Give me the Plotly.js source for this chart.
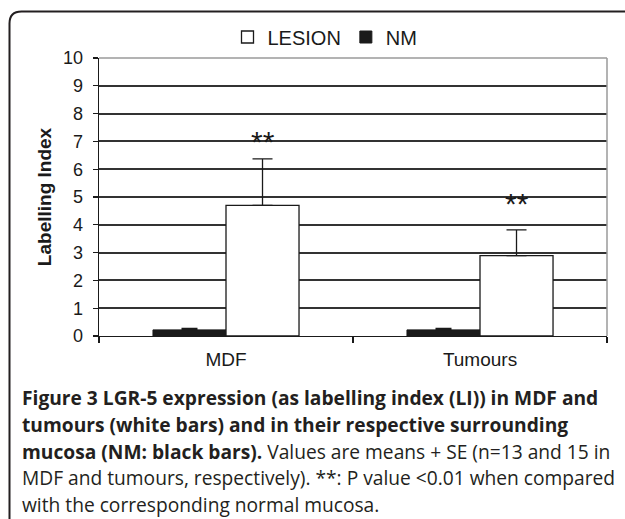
<!DOCTYPE html>
<html>
<head>
<meta charset="utf-8">
<script src="https://cdn.plot.ly/plotly-3.0.1.min.js"></script>
<style>html,body{margin:0;padding:0;background:#fff;}#chart{width:625px;height:519px;}</style>
</head>
<body>
<div id="chart"></div>
<script>
// ---- data ----
var categories = ['MDF', 'Tumours'];
var lesionMean = [4.70, 2.89];
var lesionSE   = [1.67, 0.93];
var nmMean     = [0.22, 0.22];
var nmSE       = [0.05, 0.05];
var starText   = ['**', '**'];
var starLevel  = [7.18, 4.93];
var yTicks     = [0, 1, 2, 3, 4, 5, 6, 7, 8, 9, 10];
var captionLines = [
  '<b>Figure 3 LGR-5 expression (as labelling index (LI)) in MDF and</b>',
  '<b>tumours (white bars) and in their respective surrounding</b>',
  '<b>mucosa (NM: black bars).</b> Values are means + SE (n=13 and 15 in',
  'MDF and tumours, respectively). **: P value &lt;0.01 when compared',
  'with the corresponding normal mucosa.'
];

// ---- layout geometry (pixels) ----
var W = 625, H = 519;
var L = 99, R = 607, T = 58, B = 336;
function px(x) { return (x - L) / (R - L); }
function py(y) { return (B - y) / (B - T); }

var FONT = '"Liberation Sans", Arial, sans-serif';
var CAPFONT = '"Open Sans", "Noto Sans", sans-serif';

var traces = [
  {
    type: 'bar', name: 'NM', x: categories, y: nmMean,
    marker: {color: '#1a1a1a', line: {color: '#1a1a1a', width: 1}},
    error_y: {type: 'data', array: nmSE, visible: true, symmetric: false, arrayminus: [0, 0],
              color: '#1a1a1a', thickness: 1.3, width: 8}
  },
  {
    type: 'bar', name: 'LESION', x: categories, y: lesionMean,
    marker: {color: '#ffffff', line: {color: '#1a1a1a', width: 1.3}},
    error_y: {type: 'data', array: lesionSE, visible: true, symmetric: false, arrayminus: [0, 0],
              color: '#1a1a1a', thickness: 1.3, width: 10}
  }
];

var annotations = [];
for (var i = 0; i < categories.length; i++) {
  annotations.push({
    x: categories[i], y: starLevel[i], xref: 'x', yref: 'y',
    text: starText[i], showarrow: false, xshift: 36.5, yshift: -5,
    font: {family: FONT, size: 30, color: '#1a1a1a'}
  });
}
var capY = [397, 424, 451, 477.5, 504];
for (var j = 0; j < captionLines.length; j++) {
  annotations.push({
    x: px(20), y: py(capY[j]), xref: 'paper', yref: 'paper',
    xanchor: 'left', yanchor: 'middle', align: 'left', showarrow: false,
    text: captionLines[j],
    font: {family: CAPFONT, size: 19.2, color: '#231f20'}
  });
}

var r = 12, bx = 9.5, by = 11.5;
var shapes = [
  {type: 'path', xref: 'paper', yref: 'paper', layer: 'above',
   path: 'M ' + px(bx) + ',' + py(H + 5) + ' L ' + px(bx) + ',' + py(by + r) +
         ' Q ' + px(bx) + ',' + py(by) + ' ' + px(bx + r) + ',' + py(by) +
         ' L ' + px(W + 10) + ',' + py(by),
   line: {color: '#231f20', width: 2}},
  {type: 'line', xref: 'paper', yref: 'paper', x0: 0, x1: 1, y0: 1, y1: 1,
   line: {color: '#9a9a9a', width: 1.5}, layer: 'above'},
  {type: 'line', xref: 'paper', yref: 'paper', x0: 1, x1: 1, y0: 0, y1: 1,
   line: {color: '#9a9a9a', width: 1.5}, layer: 'above'}
];

var layout = {
  width: W, height: H,
  margin: {l: L, r: W - R, t: T, b: H - B, pad: 0},
  paper_bgcolor: '#ffffff', plot_bgcolor: '#ffffff',
  font: {family: FONT, size: 18, color: '#1a1a1a'},
  barmode: 'group', bargap: 0.425, bargroupgap: 0,
  showlegend: true,
  legend: {orientation: 'h', traceorder: 'reversed', x: px(325), xanchor: 'center',
           y: py(37), yanchor: 'middle', font: {family: FONT, size: 20, color: '#1a1a1a'},
           bgcolor: 'rgba(0,0,0,0)', itemwidth: 30},
  xaxis: {
    type: 'category', showline: true, linecolor: '#1a1a1a', linewidth: 1.3,
    ticks: 'outside', tickson: 'boundaries', ticklen: 6, tickcolor: '#1a1a1a', tickwidth: 1.3,
    showgrid: false, zeroline: false, tickfont: {family: FONT, size: 19, color: '#1a1a1a'},
    ticklabelstandoff: 6, automargin: false
  },
  yaxis: {
    range: [0, 10], tickvals: yTicks, ticktext: yTicks.map(String),
    showline: true, linecolor: '#1a1a1a', linewidth: 1.3,
    ticks: 'outside', ticklen: 5, tickcolor: '#1a1a1a', tickwidth: 1.3,
    showgrid: true, gridcolor: '#333333', gridwidth: 2, zeroline: false,
    tickfont: {family: FONT, size: 18, color: '#1a1a1a'}, ticklabelstandoff: 6,
    title: {text: '<b>Labelling Index</b>', font: {family: FONT, size: 19, color: '#1a1a1a'}, standoff: 6},
    automargin: false
  },
  annotations: annotations,
  shapes: shapes
};

Plotly.newPlot('chart', traces, layout, {displayModeBar: false, staticPlot: true});
</script>
</body>
</html>
